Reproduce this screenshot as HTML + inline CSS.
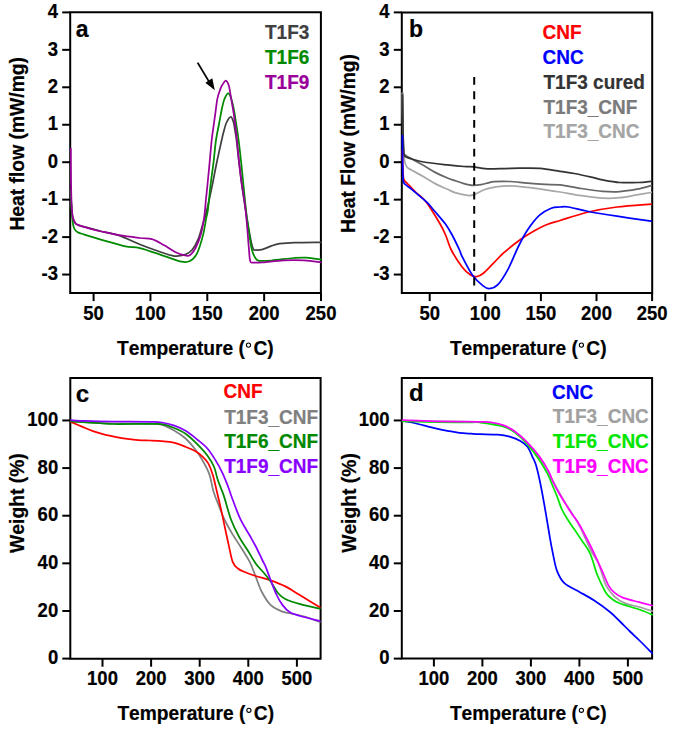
<!DOCTYPE html>
<html><head><meta charset="utf-8"><style>
html,body{margin:0;padding:0;background:#fff;}
body{width:674px;height:733px;overflow:hidden;}
svg{display:block;font-family:"Liberation Sans", sans-serif;font-weight:bold;}
text{stroke-width:0.2px;font-kerning:none;font-feature-settings:"kern" 0;}
</style></head><body>
<svg width="674" height="733" viewBox="0 0 674 733">
<rect width="674" height="733" fill="#fff"/>
<path d="M70.20,12.30 H320.90 V293.10 H70.20 Z" fill="none" stroke="#000" stroke-width="2.00" stroke-linejoin="miter"/>
<path d="M70.80,195.00 C70.93,197.17 71.27,204.17 71.60,208.00 C71.93,211.83 72.23,215.53 72.80,218.00 C73.37,220.47 74.15,221.63 75.00,222.80 C75.85,223.97 75.40,224.07 77.90,225.00 C80.40,225.93 86.05,227.32 90.00,228.40 C93.95,229.48 96.70,230.30 101.60,231.50 C106.50,232.70 113.00,233.43 119.40,235.60 C125.80,237.77 133.60,241.93 140.00,244.50 C146.40,247.07 152.27,249.12 157.80,251.00 C163.33,252.88 168.65,255.20 173.20,255.80 C177.75,256.40 181.93,255.60 185.10,254.60 C188.27,253.60 190.02,252.37 192.20,249.80 C194.38,247.23 196.42,243.55 198.20,239.20 C199.98,234.85 201.45,228.57 202.90,223.70 C204.35,218.83 205.32,216.53 206.90,210.00 C208.48,203.47 210.77,192.38 212.40,184.50 C214.03,176.62 215.15,170.12 216.70,162.70 C218.25,155.28 220.55,145.12 221.70,140.00 C222.85,134.88 222.80,134.92 223.60,132.00 C224.40,129.08 225.30,125.03 226.50,122.50 C227.70,119.97 229.62,116.80 230.80,116.80 C231.98,116.80 232.85,119.97 233.60,122.50 C234.35,125.03 234.82,129.08 235.30,132.00 C235.78,134.92 235.87,134.88 236.50,140.00 C237.13,145.12 238.22,155.28 239.10,162.70 C239.98,170.12 240.72,176.62 241.80,184.50 C242.88,192.38 244.67,203.75 245.60,210.00 C246.53,216.25 246.42,216.43 247.40,222.00 C248.38,227.57 250.48,238.83 251.50,243.40 C252.52,247.97 252.75,248.30 253.50,249.40 C254.25,250.50 254.47,250.02 256.00,250.00 C257.53,249.98 259.17,250.28 262.70,249.30 C266.23,248.32 272.00,245.20 277.20,244.10 C282.40,243.00 286.62,243.00 293.90,242.70 C301.18,242.40 316.40,242.37 320.90,242.30" fill="none" stroke="#404040" stroke-width="1.75" stroke-linejoin="round" stroke-linecap="round"/>
<path d="M70.80,190.50 C70.93,193.75 71.30,204.92 71.60,210.00 C71.90,215.08 72.27,218.20 72.60,221.00 C72.93,223.80 73.12,225.22 73.60,226.80 C74.08,228.38 74.68,229.53 75.50,230.50 C76.32,231.47 77.12,231.95 78.50,232.60 C79.88,233.25 79.95,233.20 83.80,234.40 C87.65,235.60 94.68,237.82 101.60,239.80 C108.52,241.78 118.90,244.92 125.30,246.30 C131.70,247.68 133.60,246.52 140.00,248.10 C146.40,249.68 156.78,253.53 163.70,255.80 C170.62,258.07 177.13,260.82 181.50,261.70 C185.87,262.58 187.32,262.48 189.90,261.10 C192.48,259.72 194.83,257.65 197.00,253.40 C199.17,249.15 201.35,241.53 202.90,235.60 C204.45,229.67 205.47,222.07 206.30,217.80 C207.13,213.53 207.18,215.55 207.90,210.00 C208.62,204.45 209.67,192.38 210.60,184.50 C211.53,176.62 212.60,170.12 213.50,162.70 C214.40,155.28 215.03,146.70 216.00,140.00 C216.97,133.30 218.30,127.80 219.30,122.50 C220.30,117.20 221.12,112.18 222.00,108.20 C222.88,104.22 223.53,101.07 224.60,98.60 C225.67,96.13 227.30,93.40 228.40,93.40 C229.50,93.40 230.33,96.13 231.20,98.60 C232.07,101.07 232.80,104.22 233.60,108.20 C234.40,112.18 235.17,117.20 236.00,122.50 C236.83,127.80 237.73,133.30 238.60,140.00 C239.47,146.70 240.40,155.28 241.20,162.70 C242.00,170.12 242.60,176.62 243.40,184.50 C244.20,192.38 245.27,203.52 246.00,210.00 C246.73,216.48 247.03,217.90 247.80,223.40 C248.57,228.90 249.90,238.53 250.60,243.00 C251.30,247.47 251.25,247.77 252.00,250.20 C252.75,252.63 253.93,255.83 255.10,257.60 C256.27,259.37 256.27,260.32 259.00,260.80 C261.73,261.28 265.68,260.97 271.50,260.50 C277.32,260.03 288.10,258.48 293.90,258.00 C299.70,257.52 301.80,257.32 306.30,257.60 C310.80,257.88 318.47,259.35 320.90,259.70" fill="none" stroke="#008a00" stroke-width="1.75" stroke-linejoin="round" stroke-linecap="round"/>
<path d="M70.80,148.60 C70.83,153.83 70.87,170.60 71.00,180.00 C71.13,189.40 71.30,198.83 71.60,205.00 C71.90,211.17 72.23,214.08 72.80,217.00 C73.37,219.92 74.15,221.18 75.00,222.50 C75.85,223.82 75.40,223.88 77.90,224.90 C80.40,225.92 86.05,227.50 90.00,228.60 C93.95,229.70 96.70,230.40 101.60,231.50 C106.50,232.60 113.00,234.12 119.40,235.20 C125.80,236.28 134.58,237.33 140.00,238.00 C145.42,238.67 147.95,238.02 151.90,239.20 C155.85,240.38 159.75,242.93 163.70,245.10 C167.65,247.27 172.23,250.52 175.60,252.20 C178.97,253.88 181.52,254.70 183.90,255.20 C186.28,255.70 187.92,256.48 189.90,255.20 C191.88,253.92 194.03,250.77 195.80,247.50 C197.57,244.23 199.12,240.55 200.50,235.60 C201.88,230.65 203.20,223.73 204.10,217.80 C205.00,211.87 205.33,205.55 205.90,200.00 C206.47,194.45 206.88,190.72 207.50,184.50 C208.12,178.28 208.90,170.12 209.60,162.70 C210.30,155.28 211.07,145.90 211.70,140.00 C212.33,134.10 212.78,131.82 213.40,127.30 C214.02,122.78 214.73,117.68 215.40,112.90 C216.07,108.12 216.58,102.57 217.40,98.60 C218.22,94.63 219.42,91.48 220.30,89.10 C221.18,86.72 221.78,85.70 222.70,84.30 C223.62,82.90 224.85,80.70 225.80,80.70 C226.75,80.70 227.77,82.90 228.40,84.30 C229.03,85.70 229.13,86.72 229.60,89.10 C230.07,91.48 230.53,94.63 231.20,98.60 C231.87,102.57 232.88,108.12 233.60,112.90 C234.32,117.68 234.93,122.78 235.50,127.30 C236.07,131.82 236.40,134.10 237.00,140.00 C237.60,145.90 238.30,155.28 239.10,162.70 C239.90,170.12 240.72,176.62 241.80,184.50 C242.88,192.38 244.43,199.52 245.60,210.00 C246.77,220.48 248.05,238.93 248.80,247.40 C249.55,255.87 249.43,258.27 250.10,260.80 C250.77,263.33 250.70,262.33 252.80,262.60 C254.90,262.87 257.58,262.78 262.70,262.40 C267.82,262.02 276.58,260.65 283.50,260.30 C290.42,259.95 297.97,259.95 304.20,260.30 C310.43,260.65 318.12,262.05 320.90,262.40" fill="none" stroke="#990099" stroke-width="1.75" stroke-linejoin="round" stroke-linecap="round"/>
<line x1="62.20" y1="12.40" x2="70.20" y2="12.40" stroke="#000" stroke-width="2.00"/>
<text transform="translate(58.00 18.10) scale(1.000 1.080)" font-size="18.50" text-anchor="end" fill="#000" stroke="#000">4</text>
<line x1="62.20" y1="49.85" x2="70.20" y2="49.85" stroke="#000" stroke-width="2.00"/>
<text transform="translate(58.00 55.55) scale(1.000 1.080)" font-size="18.50" text-anchor="end" fill="#000" stroke="#000">3</text>
<line x1="62.20" y1="87.30" x2="70.20" y2="87.30" stroke="#000" stroke-width="2.00"/>
<text transform="translate(58.00 93.00) scale(1.000 1.080)" font-size="18.50" text-anchor="end" fill="#000" stroke="#000">2</text>
<line x1="62.20" y1="124.75" x2="70.20" y2="124.75" stroke="#000" stroke-width="2.00"/>
<text transform="translate(58.00 130.45) scale(1.000 1.080)" font-size="18.50" text-anchor="end" fill="#000" stroke="#000">1</text>
<line x1="62.20" y1="162.20" x2="70.20" y2="162.20" stroke="#000" stroke-width="2.00"/>
<text transform="translate(58.00 167.90) scale(1.000 1.080)" font-size="18.50" text-anchor="end" fill="#000" stroke="#000">0</text>
<line x1="62.20" y1="199.65" x2="70.20" y2="199.65" stroke="#000" stroke-width="2.00"/>
<text transform="translate(58.00 205.35) scale(1.000 1.080)" font-size="18.50" text-anchor="end" fill="#000" stroke="#000">-1</text>
<line x1="62.20" y1="237.10" x2="70.20" y2="237.10" stroke="#000" stroke-width="2.00"/>
<text transform="translate(58.00 242.80) scale(1.000 1.080)" font-size="18.50" text-anchor="end" fill="#000" stroke="#000">-2</text>
<line x1="62.20" y1="274.55" x2="70.20" y2="274.55" stroke="#000" stroke-width="2.00"/>
<text transform="translate(58.00 280.25) scale(1.000 1.080)" font-size="18.50" text-anchor="end" fill="#000" stroke="#000">-3</text>
<line x1="93.60" y1="293.10" x2="93.60" y2="301.10" stroke="#000" stroke-width="2.00"/>
<text transform="translate(93.60 320.20) scale(1.000 1.080)" font-size="18.50" text-anchor="middle" fill="#000" stroke="#000">50</text>
<line x1="150.45" y1="293.10" x2="150.45" y2="301.10" stroke="#000" stroke-width="2.00"/>
<text transform="translate(150.45 320.20) scale(1.000 1.080)" font-size="18.50" text-anchor="middle" fill="#000" stroke="#000">100</text>
<line x1="207.30" y1="293.10" x2="207.30" y2="301.10" stroke="#000" stroke-width="2.00"/>
<text transform="translate(207.30 320.20) scale(1.000 1.080)" font-size="18.50" text-anchor="middle" fill="#000" stroke="#000">150</text>
<line x1="264.15" y1="293.10" x2="264.15" y2="301.10" stroke="#000" stroke-width="2.00"/>
<text transform="translate(264.15 320.20) scale(1.000 1.080)" font-size="18.50" text-anchor="middle" fill="#000" stroke="#000">200</text>
<line x1="321.00" y1="293.10" x2="321.00" y2="301.10" stroke="#000" stroke-width="2.00"/>
<text transform="translate(321.00 320.20) scale(1.000 1.080)" font-size="18.50" text-anchor="middle" fill="#000" stroke="#000">250</text>
<text transform="translate(117.00 354.80) scale(1.000 1.085)" font-size="19.20" text-anchor="start" fill="#000" stroke="#000">Temperature (</text>
<circle cx="248.50" cy="345.10" r="2.1" fill="none" stroke="#000" stroke-width="1.1"/>
<text transform="translate(253.40 354.80) scale(1.000 1.085)" font-size="19.20" text-anchor="start" fill="#000" stroke="#000">C)</text>
<text transform="translate(24.00 143.80) rotate(-90) scale(1.000 1.090)" font-size="19.30" text-anchor="middle" fill="#000" stroke="#000">Heat flow (mW/mg)</text>
<text transform="translate(75.80 37.00) scale(1.000 1.050)" font-size="23.00" text-anchor="start" fill="#000" stroke="#000">a</text>
<text transform="translate(265.00 39.40) scale(1.000 1.060)" font-size="19.00" text-anchor="start" fill="#404040" stroke="#404040">T1F3</text>
<text transform="translate(265.00 63.90) scale(1.000 1.060)" font-size="19.00" text-anchor="start" fill="#008a00" stroke="#008a00">T1F6</text>
<text transform="translate(265.00 89.00) scale(1.000 1.060)" font-size="19.00" text-anchor="start" fill="#990099" stroke="#990099">T1F9</text>
<line x1="197.60" y1="62.60" x2="209.60" y2="82.60" stroke="#000" stroke-width="1.80"/>
<polygon points="214.8,90.2 205.4,82.8 212.3,78.3" fill="#000"/>
<path d="M401.80,12.40 H652.20 V293.10 H401.80 Z" fill="none" stroke="#000" stroke-width="2.00" stroke-linejoin="miter"/>
<path d="M402.30,93.00 C402.38,99.17 402.60,120.50 402.80,130.00 C403.00,139.50 403.18,144.77 403.50,150.00 C403.82,155.23 404.10,158.52 404.70,161.40 C405.30,164.28 405.90,165.82 407.10,167.30 C408.30,168.78 409.13,168.72 411.90,170.30 C414.67,171.88 419.75,174.53 423.70,176.80 C427.65,179.07 431.63,181.82 435.60,183.90 C439.57,185.98 444.27,187.85 447.50,189.30 C450.73,190.75 451.65,191.58 455.00,192.60 C458.35,193.62 464.38,195.05 467.60,195.40 C470.82,195.75 471.45,195.68 474.30,194.70 C477.15,193.72 481.12,190.80 484.70,189.50 C488.28,188.20 491.63,187.52 495.80,186.90 C499.97,186.28 504.42,185.72 509.70,185.80 C514.98,185.88 521.57,186.73 527.50,187.40 C533.43,188.07 539.88,189.03 545.30,189.80 C550.72,190.57 553.98,191.03 560.00,192.00 C566.02,192.97 574.28,194.58 581.40,195.60 C588.52,196.62 596.30,197.75 602.70,198.10 C609.10,198.45 614.10,198.23 619.80,197.70 C625.50,197.17 631.67,195.77 636.90,194.90 C642.13,194.03 648.82,192.90 651.20,192.50" fill="none" stroke="#a8a8a8" stroke-width="1.75" stroke-linejoin="round" stroke-linecap="round"/>
<path d="M402.50,93.00 C402.58,99.17 402.82,120.50 403.00,130.00 C403.18,139.50 403.32,145.92 403.60,150.00 C403.88,154.08 403.32,153.00 404.70,154.50 C406.08,156.00 408.73,157.17 411.90,159.00 C415.07,160.83 419.75,163.23 423.70,165.50 C427.65,167.77 431.63,170.52 435.60,172.60 C439.57,174.68 444.27,176.67 447.50,178.00 C450.73,179.33 452.27,179.67 455.00,180.60 C457.73,181.53 460.93,182.80 463.90,183.60 C466.87,184.40 469.95,185.22 472.80,185.40 C475.65,185.58 478.40,185.13 481.00,184.70 C483.60,184.27 486.18,183.32 488.40,182.80 C490.62,182.28 490.75,181.82 494.30,181.60 C497.85,181.38 504.17,181.23 509.70,181.50 C515.23,181.77 521.57,182.72 527.50,183.20 C533.43,183.68 539.88,184.12 545.30,184.40 C550.72,184.68 553.98,184.22 560.00,184.90 C566.02,185.58 574.28,187.43 581.40,188.50 C588.52,189.57 596.30,190.78 602.70,191.30 C609.10,191.82 614.10,191.95 619.80,191.60 C625.50,191.25 631.67,190.20 636.90,189.20 C642.13,188.20 648.82,186.20 651.20,185.60" fill="none" stroke="#666666" stroke-width="1.75" stroke-linejoin="round" stroke-linecap="round"/>
<path d="M402.50,95.00 C402.58,100.83 402.82,120.83 403.00,130.00 C403.18,139.17 403.32,145.63 403.60,150.00 C403.88,154.37 403.32,154.70 404.70,156.20 C406.08,157.70 408.73,158.03 411.90,159.00 C415.07,159.97 417.77,161.02 423.70,162.00 C429.63,162.98 440.80,164.15 447.50,164.90 C454.20,165.65 459.57,166.17 463.90,166.50 C468.23,166.83 470.65,166.62 473.50,166.90 C476.35,167.18 478.65,167.87 481.00,168.20 C483.35,168.53 483.60,168.83 487.60,168.90 C491.60,168.97 499.60,168.72 505.00,168.60 C510.40,168.48 514.17,168.23 520.00,168.20 C525.83,168.17 533.33,167.87 540.00,168.40 C546.67,168.93 554.30,170.55 560.00,171.40 C565.70,172.25 568.98,172.55 574.20,173.50 C579.42,174.45 586.55,176.03 591.30,177.10 C596.05,178.17 597.95,179.00 602.70,179.90 C607.45,180.80 613.87,182.07 619.80,182.50 C625.73,182.93 633.07,182.70 638.30,182.50 C643.53,182.30 649.05,181.50 651.20,181.30" fill="none" stroke="#333333" stroke-width="1.75" stroke-linejoin="round" stroke-linecap="round"/>
<path d="M402.40,150.50 C402.48,153.75 402.67,165.17 402.90,170.00 C403.13,174.83 403.05,177.25 403.80,179.50 C404.55,181.75 405.48,181.45 407.40,183.50 C409.32,185.55 412.53,189.13 415.30,191.80 C418.07,194.47 421.47,196.77 424.00,199.50 C426.53,202.23 427.77,204.03 430.50,208.20 C433.23,212.37 437.85,219.95 440.40,224.50 C442.95,229.05 443.98,231.25 445.80,235.50 C447.62,239.75 448.55,244.72 451.30,250.00 C454.05,255.28 459.08,263.02 462.30,267.20 C465.52,271.38 468.22,273.53 470.60,275.10 C472.98,276.67 474.52,276.87 476.60,276.60 C478.68,276.33 480.28,275.75 483.10,273.50 C485.92,271.25 490.03,266.57 493.50,263.10 C496.97,259.63 499.40,256.63 503.90,252.70 C508.40,248.77 515.18,243.28 520.50,239.50 C525.82,235.72 531.47,232.45 535.80,230.00 C540.13,227.55 542.47,226.38 546.50,224.80 C550.53,223.22 553.00,222.63 560.00,220.50 C567.00,218.37 579.00,214.25 588.50,212.00 C598.00,209.75 606.55,208.32 617.00,207.00 C627.45,205.68 645.50,204.58 651.20,204.10" fill="none" stroke="#ff0000" stroke-width="1.75" stroke-linejoin="round" stroke-linecap="round"/>
<path d="M402.40,135.70 C402.43,139.75 402.45,152.47 402.60,160.00 C402.75,167.53 402.65,176.68 403.30,180.90 C403.95,185.12 405.05,183.85 406.50,185.30 C407.95,186.75 410.00,187.97 412.00,189.60 C414.00,191.23 415.95,192.92 418.50,195.10 C421.05,197.28 424.57,199.97 427.30,202.70 C430.03,205.43 431.82,207.87 434.90,211.50 C437.98,215.13 442.88,220.50 445.80,224.50 C448.72,228.50 450.12,231.25 452.40,235.50 C454.68,239.75 457.85,246.43 459.50,250.00 C461.15,253.57 460.10,252.63 462.30,256.90 C464.50,261.17 469.23,270.77 472.70,275.60 C476.17,280.43 480.33,283.73 483.10,285.90 C485.87,288.07 486.88,288.77 489.30,288.60 C491.72,288.43 494.48,288.12 497.60,284.90 C500.72,281.68 504.53,275.70 508.00,269.30 C511.47,262.90 515.15,253.05 518.40,246.50 C521.65,239.95 524.02,235.20 527.50,230.00 C530.98,224.80 535.35,218.93 539.30,215.30 C543.25,211.67 547.75,209.58 551.20,208.20 C554.65,206.82 557.12,207.20 560.00,207.00 C562.88,206.80 563.75,206.25 568.50,207.00 C573.25,207.75 580.42,209.97 588.50,211.50 C596.58,213.03 606.55,214.58 617.00,216.20 C627.45,217.82 645.50,220.37 651.20,221.20" fill="none" stroke="#0000ff" stroke-width="1.75" stroke-linejoin="round" stroke-linecap="round"/>
<line x1="474.20" y1="77.00" x2="474.20" y2="286.30" stroke="#000" stroke-width="2.00" stroke-dasharray="7.8,6.53"/>
<line x1="393.80" y1="12.40" x2="401.80" y2="12.40" stroke="#000" stroke-width="2.00"/>
<text transform="translate(389.60 18.10) scale(1.000 1.080)" font-size="18.50" text-anchor="end" fill="#000" stroke="#000">4</text>
<line x1="393.80" y1="49.85" x2="401.80" y2="49.85" stroke="#000" stroke-width="2.00"/>
<text transform="translate(389.60 55.55) scale(1.000 1.080)" font-size="18.50" text-anchor="end" fill="#000" stroke="#000">3</text>
<line x1="393.80" y1="87.30" x2="401.80" y2="87.30" stroke="#000" stroke-width="2.00"/>
<text transform="translate(389.60 93.00) scale(1.000 1.080)" font-size="18.50" text-anchor="end" fill="#000" stroke="#000">2</text>
<line x1="393.80" y1="124.75" x2="401.80" y2="124.75" stroke="#000" stroke-width="2.00"/>
<text transform="translate(389.60 130.45) scale(1.000 1.080)" font-size="18.50" text-anchor="end" fill="#000" stroke="#000">1</text>
<line x1="393.80" y1="162.20" x2="401.80" y2="162.20" stroke="#000" stroke-width="2.00"/>
<text transform="translate(389.60 167.90) scale(1.000 1.080)" font-size="18.50" text-anchor="end" fill="#000" stroke="#000">0</text>
<line x1="393.80" y1="199.65" x2="401.80" y2="199.65" stroke="#000" stroke-width="2.00"/>
<text transform="translate(389.60 205.35) scale(1.000 1.080)" font-size="18.50" text-anchor="end" fill="#000" stroke="#000">-1</text>
<line x1="393.80" y1="237.10" x2="401.80" y2="237.10" stroke="#000" stroke-width="2.00"/>
<text transform="translate(389.60 242.80) scale(1.000 1.080)" font-size="18.50" text-anchor="end" fill="#000" stroke="#000">-2</text>
<line x1="393.80" y1="274.55" x2="401.80" y2="274.55" stroke="#000" stroke-width="2.00"/>
<text transform="translate(389.60 280.25) scale(1.000 1.080)" font-size="18.50" text-anchor="end" fill="#000" stroke="#000">-3</text>
<line x1="429.70" y1="293.10" x2="429.70" y2="301.10" stroke="#000" stroke-width="2.00"/>
<text transform="translate(429.70 320.20) scale(1.000 1.080)" font-size="18.50" text-anchor="middle" fill="#000" stroke="#000">50</text>
<line x1="485.30" y1="293.10" x2="485.30" y2="301.10" stroke="#000" stroke-width="2.00"/>
<text transform="translate(485.30 320.20) scale(1.000 1.080)" font-size="18.50" text-anchor="middle" fill="#000" stroke="#000">100</text>
<line x1="540.90" y1="293.10" x2="540.90" y2="301.10" stroke="#000" stroke-width="2.00"/>
<text transform="translate(540.90 320.20) scale(1.000 1.080)" font-size="18.50" text-anchor="middle" fill="#000" stroke="#000">150</text>
<line x1="596.50" y1="293.10" x2="596.50" y2="301.10" stroke="#000" stroke-width="2.00"/>
<text transform="translate(596.50 320.20) scale(1.000 1.080)" font-size="18.50" text-anchor="middle" fill="#000" stroke="#000">200</text>
<line x1="652.10" y1="293.10" x2="652.10" y2="301.10" stroke="#000" stroke-width="2.00"/>
<text transform="translate(652.10 320.20) scale(1.000 1.080)" font-size="18.50" text-anchor="middle" fill="#000" stroke="#000">250</text>
<text transform="translate(449.90 354.80) scale(1.000 1.085)" font-size="19.20" text-anchor="start" fill="#000" stroke="#000">Temperature (</text>
<circle cx="581.40" cy="345.10" r="2.1" fill="none" stroke="#000" stroke-width="1.1"/>
<text transform="translate(586.30 354.80) scale(1.000 1.085)" font-size="19.20" text-anchor="start" fill="#000" stroke="#000">C)</text>
<text transform="translate(355.40 143.45) rotate(-90) scale(1.000 1.090)" font-size="19.30" text-anchor="middle" fill="#000" stroke="#000">Heat Flow (mW/mg)</text>
<text transform="translate(408.90 37.30)" font-size="23.00" text-anchor="start" fill="#000" stroke="#000">b</text>
<text transform="translate(542.50 38.50) scale(1.000 1.060)" font-size="19.00" text-anchor="start" fill="#ff0000" stroke="#ff0000">CNF</text>
<text transform="translate(542.50 63.50) scale(1.000 1.060)" font-size="19.00" text-anchor="start" fill="#0000ff" stroke="#0000ff">CNC</text>
<text transform="translate(543.50 89.20) scale(1.000 1.060)" font-size="19.00" text-anchor="start" fill="#333333" stroke="#333333">T1F3 cured</text>
<text transform="translate(543.50 114.20) scale(1.000 1.060)" font-size="19.00" text-anchor="start" fill="#7a7a7a" stroke="#7a7a7a">T1F3_CNF</text>
<text transform="translate(543.50 138.30) scale(1.000 1.060)" font-size="19.00" text-anchor="start" fill="#a5a5a5" stroke="#a5a5a5">T1F3_CNC</text>
<path d="M70.30,378.00 H320.60 V658.70 H70.30 Z" fill="none" stroke="#000" stroke-width="2.00" stroke-linejoin="miter"/>
<path d="M70.80,421.30 C77.98,421.67 100.70,423.08 113.90,423.50 C127.10,423.92 142.00,423.58 150.00,423.80 C158.00,424.02 157.95,423.73 161.90,424.80 C165.85,425.87 169.75,427.92 173.70,430.20 C177.65,432.48 182.03,435.33 185.60,438.50 C189.17,441.67 192.33,445.63 195.10,449.20 C197.87,452.77 199.83,455.75 202.20,459.90 C204.57,464.05 207.42,468.83 209.30,474.10 C211.18,479.37 211.88,486.17 213.50,491.50 C215.12,496.83 217.30,501.68 219.00,506.10 C220.70,510.52 221.53,513.45 223.70,518.00 C225.87,522.55 229.22,528.65 232.00,533.40 C234.78,538.15 237.45,541.75 240.40,546.50 C243.35,551.25 247.15,556.87 249.70,561.90 C252.25,566.93 253.72,571.77 255.70,576.70 C257.68,581.63 259.13,586.80 261.60,591.50 C264.07,596.20 267.03,601.55 270.50,604.90 C273.97,608.25 278.68,610.12 282.40,611.60 C286.12,613.08 288.60,612.82 292.80,613.80 C297.00,614.78 303.10,616.13 307.60,617.50 C312.10,618.87 317.77,621.25 319.80,622.00" fill="none" stroke="#808080" stroke-width="1.75" stroke-linejoin="round" stroke-linecap="round"/>
<path d="M70.80,421.90 C72.65,422.68 78.08,425.02 81.90,426.60 C85.72,428.18 89.75,430.02 93.70,431.40 C97.65,432.78 101.63,433.92 105.60,434.90 C109.57,435.88 113.55,436.60 117.50,437.30 C121.45,438.00 125.35,438.60 129.30,439.10 C133.25,439.60 137.75,440.07 141.20,440.30 C144.65,440.53 146.55,440.37 150.00,440.50 C153.45,440.63 157.95,440.75 161.90,441.10 C165.85,441.45 169.75,441.65 173.70,442.60 C177.65,443.55 182.03,445.40 185.60,446.80 C189.17,448.20 192.33,449.42 195.10,451.00 C197.87,452.58 200.02,454.23 202.20,456.30 C204.38,458.37 206.42,460.23 208.20,463.40 C209.98,466.57 211.52,470.87 212.90,475.30 C214.28,479.73 215.08,484.07 216.50,490.00 C217.92,495.93 220.00,504.65 221.40,510.90 C222.80,517.15 223.72,521.97 224.90,527.50 C226.08,533.03 227.20,538.37 228.50,544.10 C229.80,549.83 231.13,557.83 232.70,561.90 C234.27,565.97 235.80,566.77 237.90,568.50 C240.00,570.23 242.33,571.05 245.30,572.30 C248.27,573.55 251.50,574.65 255.70,576.00 C259.90,577.35 265.57,578.67 270.50,580.40 C275.43,582.13 280.35,583.92 285.30,586.40 C290.25,588.88 294.45,591.82 300.20,595.30 C305.95,598.78 316.53,605.30 319.80,607.30" fill="none" stroke="#ff0000" stroke-width="1.75" stroke-linejoin="round" stroke-linecap="round"/>
<path d="M70.80,421.30 C75.62,421.60 92.52,422.65 99.70,423.10 C106.88,423.55 105.52,423.88 113.90,424.00 C122.28,424.12 142.00,423.77 150.00,423.80 C158.00,423.83 157.95,423.53 161.90,424.20 C165.85,424.87 169.75,426.22 173.70,427.80 C177.65,429.38 181.63,430.93 185.60,433.70 C189.57,436.47 193.93,440.83 197.50,444.40 C201.07,447.97 204.23,451.33 207.00,455.10 C209.77,458.87 212.30,462.85 214.10,467.00 C215.90,471.15 216.20,475.27 217.80,480.00 C219.40,484.73 221.52,488.87 223.70,495.40 C225.88,501.93 228.32,512.27 230.90,519.20 C233.48,526.13 236.43,531.87 239.20,537.00 C241.97,542.13 244.75,545.60 247.50,550.00 C250.25,554.40 252.85,559.45 255.70,563.40 C258.55,567.35 262.13,570.73 264.60,573.70 C267.07,576.67 268.28,577.98 270.50,581.20 C272.72,584.42 275.43,590.03 277.90,593.00 C280.37,595.97 281.58,597.13 285.30,599.00 C289.02,600.87 294.45,602.60 300.20,604.20 C305.95,605.80 316.53,607.87 319.80,608.60" fill="none" stroke="#008800" stroke-width="1.75" stroke-linejoin="round" stroke-linecap="round"/>
<path d="M70.80,420.10 C73.23,420.23 78.22,420.65 85.40,420.90 C92.58,421.15 103.13,421.43 113.90,421.60 C124.67,421.77 142.00,421.75 150.00,421.90 C158.00,422.05 157.95,421.92 161.90,422.50 C165.85,423.08 169.75,424.02 173.70,425.40 C177.65,426.78 181.63,428.42 185.60,430.80 C189.57,433.18 193.93,436.83 197.50,439.70 C201.07,442.57 204.03,444.63 207.00,448.00 C209.97,451.37 212.73,455.75 215.30,459.90 C217.87,464.05 220.23,468.35 222.40,472.90 C224.57,477.45 226.70,483.05 228.30,487.20 C229.90,491.35 229.98,492.47 232.00,497.80 C234.02,503.13 237.42,512.87 240.40,519.20 C243.38,525.53 247.33,531.25 249.90,535.80 C252.47,540.35 253.73,542.47 255.80,546.50 C257.87,550.53 260.58,556.45 262.30,560.00 C264.02,563.55 264.73,564.52 266.10,567.80 C267.47,571.08 268.78,575.25 270.50,579.70 C272.22,584.15 274.42,590.30 276.40,594.50 C278.38,598.70 280.17,601.93 282.40,604.90 C284.63,607.87 286.83,610.45 289.80,612.30 C292.77,614.15 295.20,614.55 300.20,616.00 C305.20,617.45 316.53,620.17 319.80,621.00" fill="none" stroke="#8800ff" stroke-width="1.75" stroke-linejoin="round" stroke-linecap="round"/>
<line x1="62.30" y1="658.60" x2="70.30" y2="658.60" stroke="#000" stroke-width="2.00"/>
<text transform="translate(58.20 664.30) scale(1.000 1.080)" font-size="18.50" text-anchor="end" fill="#000" stroke="#000">0</text>
<line x1="62.30" y1="610.97" x2="70.30" y2="610.97" stroke="#000" stroke-width="2.00"/>
<text transform="translate(58.20 616.67) scale(1.000 1.080)" font-size="18.50" text-anchor="end" fill="#000" stroke="#000">20</text>
<line x1="62.30" y1="563.34" x2="70.30" y2="563.34" stroke="#000" stroke-width="2.00"/>
<text transform="translate(58.20 569.04) scale(1.000 1.080)" font-size="18.50" text-anchor="end" fill="#000" stroke="#000">40</text>
<line x1="62.30" y1="515.71" x2="70.30" y2="515.71" stroke="#000" stroke-width="2.00"/>
<text transform="translate(58.20 521.41) scale(1.000 1.080)" font-size="18.50" text-anchor="end" fill="#000" stroke="#000">60</text>
<line x1="62.30" y1="468.08" x2="70.30" y2="468.08" stroke="#000" stroke-width="2.00"/>
<text transform="translate(58.20 473.78) scale(1.000 1.080)" font-size="18.50" text-anchor="end" fill="#000" stroke="#000">80</text>
<line x1="62.30" y1="420.45" x2="70.30" y2="420.45" stroke="#000" stroke-width="2.00"/>
<text transform="translate(58.20 426.15) scale(1.000 1.080)" font-size="18.50" text-anchor="end" fill="#000" stroke="#000">100</text>
<line x1="102.50" y1="658.70" x2="102.50" y2="666.70" stroke="#000" stroke-width="2.00"/>
<text transform="translate(102.50 684.90) scale(1.000 1.080)" font-size="18.50" text-anchor="middle" fill="#000" stroke="#000">100</text>
<line x1="151.10" y1="658.70" x2="151.10" y2="666.70" stroke="#000" stroke-width="2.00"/>
<text transform="translate(151.10 684.90) scale(1.000 1.080)" font-size="18.50" text-anchor="middle" fill="#000" stroke="#000">200</text>
<line x1="199.70" y1="658.70" x2="199.70" y2="666.70" stroke="#000" stroke-width="2.00"/>
<text transform="translate(199.70 684.90) scale(1.000 1.080)" font-size="18.50" text-anchor="middle" fill="#000" stroke="#000">300</text>
<line x1="248.30" y1="658.70" x2="248.30" y2="666.70" stroke="#000" stroke-width="2.00"/>
<text transform="translate(248.30 684.90) scale(1.000 1.080)" font-size="18.50" text-anchor="middle" fill="#000" stroke="#000">400</text>
<line x1="296.90" y1="658.70" x2="296.90" y2="666.70" stroke="#000" stroke-width="2.00"/>
<text transform="translate(296.90 684.90) scale(1.000 1.080)" font-size="18.50" text-anchor="middle" fill="#000" stroke="#000">500</text>
<text transform="translate(117.40 720.00) scale(1.000 1.085)" font-size="19.20" text-anchor="start" fill="#000" stroke="#000">Temperature (</text>
<circle cx="248.90" cy="710.30" r="2.1" fill="none" stroke="#000" stroke-width="1.1"/>
<text transform="translate(253.80 720.00) scale(1.000 1.085)" font-size="19.20" text-anchor="start" fill="#000" stroke="#000">C)</text>
<text transform="translate(24.30 503.10) rotate(-90) scale(1.000 1.090)" font-size="19.30" text-anchor="middle" fill="#000" stroke="#000">Weight (%)</text>
<text transform="translate(75.80 401.60) scale(1.050 1.060)" font-size="23.00" text-anchor="start" fill="#000" stroke="#000">c</text>
<text transform="translate(223.50 398.20) scale(1.000 1.060)" font-size="19.00" text-anchor="start" fill="#ff0000" stroke="#ff0000">CNF</text>
<text transform="translate(224.20 423.50) scale(1.000 1.060)" font-size="19.00" text-anchor="start" fill="#808080" stroke="#808080">T1F3_CNF</text>
<text transform="translate(224.20 448.00) scale(1.000 1.060)" font-size="19.00" text-anchor="start" fill="#008800" stroke="#008800">T1F6_CNF</text>
<text transform="translate(224.20 472.80) scale(1.000 1.060)" font-size="19.00" text-anchor="start" fill="#8800ff" stroke="#8800ff">T1F9_CNF</text>
<path d="M401.80,378.00 H652.10 V658.50 H401.80 Z" fill="none" stroke="#000" stroke-width="2.00" stroke-linejoin="miter"/>
<path d="M402.40,421.00 C415.33,421.17 463.12,421.17 480.00,422.00 C496.88,422.83 497.77,424.25 503.70,426.00 C509.63,427.75 511.63,429.58 515.60,432.50 C519.57,435.42 523.55,439.25 527.50,443.50 C531.45,447.75 535.75,453.08 539.30,458.00 C542.85,462.92 545.82,467.83 548.80,473.00 C551.78,478.17 554.60,484.25 557.20,489.00 C559.80,493.75 560.75,495.50 564.40,501.50 C568.05,507.50 574.73,516.92 579.10,525.00 C583.47,533.08 587.48,543.83 590.60,550.00 C593.72,556.17 595.90,558.05 597.80,562.00 C599.70,565.95 600.62,569.77 602.00,573.70 C603.38,577.63 604.03,581.83 606.10,585.60 C608.17,589.37 611.23,593.33 614.40,596.30 C617.57,599.27 620.95,601.62 625.10,603.40 C629.25,605.18 634.80,605.72 639.30,607.00 C643.80,608.28 649.97,610.42 652.10,611.10" fill="none" stroke="#a0a0a0" stroke-width="1.75" stroke-linejoin="round" stroke-linecap="round"/>
<path d="M402.40,420.70 C403.98,421.00 408.35,421.72 411.90,422.50 C415.45,423.28 419.75,424.42 423.70,425.40 C427.65,426.38 431.63,427.50 435.60,428.40 C439.57,429.30 443.55,430.07 447.50,430.80 C451.45,431.53 455.35,432.32 459.30,432.80 C463.25,433.28 467.75,433.47 471.20,433.70 C474.65,433.93 475.57,434.03 480.00,434.20 C484.43,434.37 492.85,434.28 497.80,434.70 C502.75,435.12 505.93,435.67 509.70,436.70 C513.47,437.73 517.43,439.22 520.40,440.90 C523.37,442.58 525.53,444.23 527.50,446.80 C529.47,449.37 530.82,453.33 532.20,456.30 C533.58,459.27 534.60,460.82 535.80,464.60 C537.00,468.38 538.18,473.47 539.40,479.00 C540.62,484.53 541.90,491.30 543.10,497.80 C544.30,504.30 545.50,511.55 546.60,518.00 C547.70,524.45 548.67,530.67 549.70,536.50 C550.73,542.33 551.58,547.27 552.80,553.00 C554.02,558.73 555.07,565.87 557.00,570.90 C558.93,575.93 560.72,579.73 564.40,583.20 C568.08,586.67 574.18,588.85 579.10,591.70 C584.02,594.55 588.75,596.92 593.90,600.30 C599.05,603.68 605.65,608.47 610.00,612.00 C614.35,615.53 616.67,618.25 620.00,621.50 C623.33,624.75 626.67,628.25 630.00,631.50 C633.33,634.75 636.32,637.38 640.00,641.00 C643.68,644.62 650.08,651.17 652.10,653.20" fill="none" stroke="#0000ff" stroke-width="1.75" stroke-linejoin="round" stroke-linecap="round"/>
<path d="M402.40,421.30 C407.93,421.45 424.13,422.03 435.60,422.20 C447.07,422.37 463.80,422.25 471.20,422.30 C478.60,422.35 474.58,421.78 480.00,422.50 C485.42,423.22 497.77,424.83 503.70,426.60 C509.63,428.37 511.63,430.13 515.60,433.10 C519.57,436.07 523.55,439.93 527.50,444.40 C531.45,448.87 535.93,454.95 539.30,459.90 C542.67,464.85 545.53,469.92 547.70,474.10 C549.87,478.28 550.70,481.18 552.30,485.00 C553.90,488.82 555.70,492.92 557.30,497.00 C558.90,501.08 560.12,505.67 561.90,509.50 C563.68,513.33 565.95,516.73 568.00,520.00 C570.05,523.27 571.95,525.77 574.20,529.10 C576.45,532.43 579.05,536.32 581.50,540.00 C583.95,543.68 587.07,547.87 588.90,551.20 C590.73,554.53 591.28,556.53 592.50,560.00 C593.72,563.47 594.95,568.50 596.20,572.00 C597.45,575.50 598.35,577.52 600.00,581.00 C601.65,584.48 604.10,589.90 606.10,592.90 C608.10,595.90 609.95,597.35 612.00,599.00 C614.05,600.65 615.82,601.63 618.40,602.80 C620.98,603.97 623.88,604.83 627.50,606.00 C631.12,607.17 636.00,608.35 640.10,609.80 C644.20,611.25 650.10,613.88 652.10,614.70" fill="none" stroke="#00e600" stroke-width="1.75" stroke-linejoin="round" stroke-linecap="round"/>
<path d="M402.40,420.10 C407.93,420.30 422.67,421.00 435.60,421.30 C448.53,421.60 470.62,421.70 480.00,421.90 C489.38,422.10 487.95,421.92 491.90,422.50 C495.85,423.08 499.75,423.82 503.70,425.40 C507.65,426.98 511.63,429.13 515.60,432.00 C519.57,434.87 523.55,438.55 527.50,442.60 C531.45,446.65 535.75,451.45 539.30,456.30 C542.85,461.15 546.67,467.75 548.80,471.70 C550.93,475.65 550.70,476.95 552.10,480.00 C553.50,483.05 555.15,486.32 557.20,490.00 C559.25,493.68 562.10,498.35 564.40,502.10 C566.70,505.85 568.55,508.82 571.00,512.50 C573.45,516.18 576.60,520.12 579.10,524.20 C581.60,528.28 583.85,532.87 586.00,537.00 C588.15,541.13 589.87,544.58 592.00,549.00 C594.13,553.42 596.88,559.33 598.80,563.50 C600.72,567.67 601.87,570.32 603.50,574.00 C605.13,577.68 606.78,582.48 608.60,585.60 C610.42,588.72 611.95,590.65 614.40,592.70 C616.85,594.75 619.15,596.32 623.30,597.90 C627.45,599.48 634.50,600.93 639.30,602.20 C644.10,603.47 649.97,604.95 652.10,605.50" fill="none" stroke="#ff00ff" stroke-width="1.75" stroke-linejoin="round" stroke-linecap="round"/>
<line x1="393.80" y1="658.60" x2="401.80" y2="658.60" stroke="#000" stroke-width="2.00"/>
<text transform="translate(389.50 664.30) scale(1.000 1.080)" font-size="18.50" text-anchor="end" fill="#000" stroke="#000">0</text>
<line x1="393.80" y1="610.97" x2="401.80" y2="610.97" stroke="#000" stroke-width="2.00"/>
<text transform="translate(389.50 616.67) scale(1.000 1.080)" font-size="18.50" text-anchor="end" fill="#000" stroke="#000">20</text>
<line x1="393.80" y1="563.34" x2="401.80" y2="563.34" stroke="#000" stroke-width="2.00"/>
<text transform="translate(389.50 569.04) scale(1.000 1.080)" font-size="18.50" text-anchor="end" fill="#000" stroke="#000">40</text>
<line x1="393.80" y1="515.71" x2="401.80" y2="515.71" stroke="#000" stroke-width="2.00"/>
<text transform="translate(389.50 521.41) scale(1.000 1.080)" font-size="18.50" text-anchor="end" fill="#000" stroke="#000">60</text>
<line x1="393.80" y1="468.08" x2="401.80" y2="468.08" stroke="#000" stroke-width="2.00"/>
<text transform="translate(389.50 473.78) scale(1.000 1.080)" font-size="18.50" text-anchor="end" fill="#000" stroke="#000">80</text>
<line x1="393.80" y1="420.45" x2="401.80" y2="420.45" stroke="#000" stroke-width="2.00"/>
<text transform="translate(389.50 426.15) scale(1.000 1.080)" font-size="18.50" text-anchor="end" fill="#000" stroke="#000">100</text>
<line x1="433.90" y1="658.50" x2="433.90" y2="666.50" stroke="#000" stroke-width="2.00"/>
<text transform="translate(433.90 684.90) scale(1.000 1.080)" font-size="18.50" text-anchor="middle" fill="#000" stroke="#000">100</text>
<line x1="482.40" y1="658.50" x2="482.40" y2="666.50" stroke="#000" stroke-width="2.00"/>
<text transform="translate(482.40 684.90) scale(1.000 1.080)" font-size="18.50" text-anchor="middle" fill="#000" stroke="#000">200</text>
<line x1="530.90" y1="658.50" x2="530.90" y2="666.50" stroke="#000" stroke-width="2.00"/>
<text transform="translate(530.90 684.90) scale(1.000 1.080)" font-size="18.50" text-anchor="middle" fill="#000" stroke="#000">300</text>
<line x1="579.40" y1="658.50" x2="579.40" y2="666.50" stroke="#000" stroke-width="2.00"/>
<text transform="translate(579.40 684.90) scale(1.000 1.080)" font-size="18.50" text-anchor="middle" fill="#000" stroke="#000">400</text>
<line x1="627.90" y1="658.50" x2="627.90" y2="666.50" stroke="#000" stroke-width="2.00"/>
<text transform="translate(627.90 684.90) scale(1.000 1.080)" font-size="18.50" text-anchor="middle" fill="#000" stroke="#000">500</text>
<text transform="translate(449.90 720.00) scale(1.000 1.085)" font-size="19.20" text-anchor="start" fill="#000" stroke="#000">Temperature (</text>
<circle cx="581.40" cy="710.30" r="2.1" fill="none" stroke="#000" stroke-width="1.1"/>
<text transform="translate(586.30 720.00) scale(1.000 1.085)" font-size="19.20" text-anchor="start" fill="#000" stroke="#000">C)</text>
<text transform="translate(356.00 503.00) rotate(-90) scale(1.000 1.090)" font-size="19.30" text-anchor="middle" fill="#000" stroke="#000">Weight (%)</text>
<text transform="translate(408.90 400.90) scale(1.040 1.000)" font-size="23.00" text-anchor="start" fill="#000" stroke="#000">d</text>
<text transform="translate(552.00 398.50) scale(1.000 1.060)" font-size="19.00" text-anchor="start" fill="#0000ff" stroke="#0000ff">CNC</text>
<text transform="translate(552.80 423.30) scale(1.000 1.060)" font-size="19.00" text-anchor="start" fill="#a0a0a0" stroke="#a0a0a0">T1F3_CNC</text>
<text transform="translate(552.80 447.80) scale(1.000 1.060)" font-size="19.00" text-anchor="start" fill="#00e600" stroke="#00e600">T1F6_CNC</text>
<text transform="translate(552.80 472.60) scale(1.000 1.060)" font-size="19.00" text-anchor="start" fill="#ff00ff" stroke="#ff00ff">T1F9_CNC</text>
</svg>
</body></html>
